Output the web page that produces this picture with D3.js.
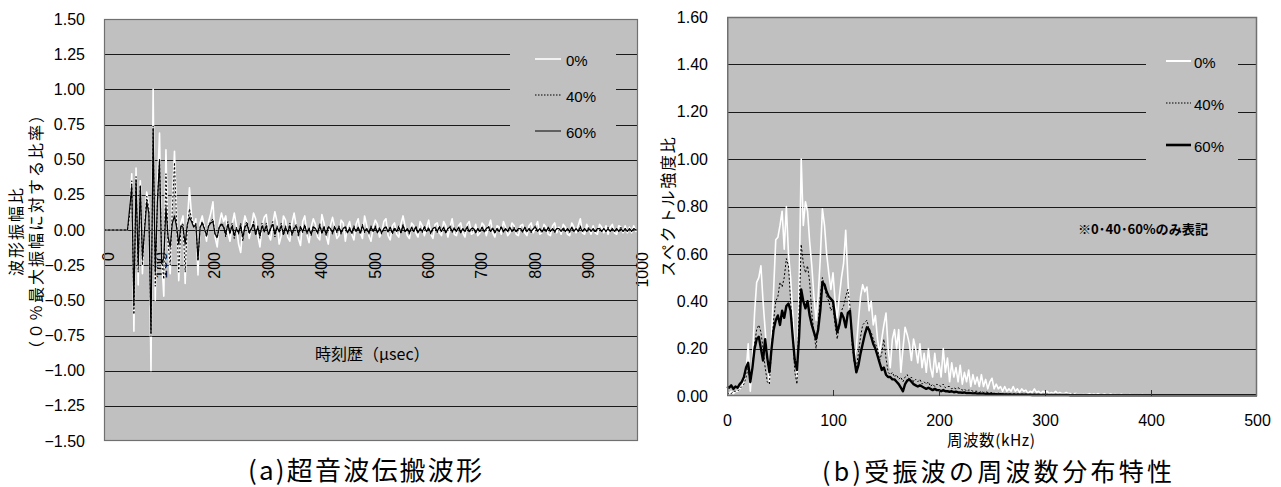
<!DOCTYPE html>
<html>
<head>
<meta charset="utf-8">
<script src="https://cdn.jsdelivr.net/npm/d3@7"></script>
<style>
  body { margin: 0; background: #fff; }
  svg { display: block; }
  .num { font-family: "Liberation Sans", Arial, sans-serif; }
  .jp { font-family: "Noto Sans CJK JP", "Noto Sans", sans-serif; }
</style>
</head>
<body>
<svg id="chart" width="1281" height="487"></svg>
<script>
// ---------- (a) waveform: amplitude ratio vs time, sampled every 4 µs ----------
const timeUs = d3.range(0, 1001, 4);
const waveTicksX = [0, 100, 200, 300, 400, 500, 600, 700, 800, 900, 1000];
const waveTicksY = [-1.5, -1.25, -1.0, -0.75, -0.5, -0.25, 0, 0.25, 0.5, 0.75, 1.0, 1.25, 1.5];
const seriesNames = ["0%", "40%", "60%"];

const wave0 = [
  0,0,0,0,0,0,0,0,0,0,0,0,
  0.1,0.4,-0.72,0.44,-0.39,0.35,-0.31,0.05,0.27,0.18,
  -1.0,1.0,-0.5,0.3,0.69,-0.2,-0.47,0.57,-0.1,-0.31,
  0.2,0.56,0.1,-0.36,0.05,0.1,-0.38,0.05,0.3,0.1,
  0.02,0.08,-0.32,0.05,0.1,0.02,-0.08,0.06,0.12,0.2,
  -0.05,-0.12,0.05,0.12,
  0.06,0.1,-0.02,-0.08,0.04,0.12,0.03,-0.1,-0.16,0.02,
  0.1,0.05,-0.06,0.02,0.12,0.08,-0.04,-0.12,0.03,0.09,
  0.11,-0.03,-0.07,0.04,0.13,0.06,-0.1,-0.04,0.1,0.07,
  -0.05,-0.08,0.05,0.12,0.03,-0.06,-0.11,0.06,0.1,-0.03,
  -0.09,0.02,0.08,0.04,-0.05,-0.07,0.11,0.05,-0.04,-0.1,
  0.03,0.09,0.02,-0.06,-0.04,0.07,0.05,-0.08,0.02,0.06,
  -0.03,-0.07,0.04,0.08,-0.02,-0.06,0.1,0.03,-0.04,-0.08,
  0.02,0.07,0.04,-0.05,-0.02,0.06,0.08,-0.04,-0.07,0.03,
  0.05,-0.03,-0.05,0.04,0.1,0.02,-0.04,-0.06,0.05,0.03,
  -0.02,-0.05,0.06,0.03,-0.04,0.02,0.07,-0.03,-0.06,0.04,
  0.05,-0.02,-0.04,0.06,0.03,-0.05,0.02,0.08,-0.03,-0.04,
  0.03,0.05,-0.02,-0.05,0.04,0.06,-0.03,-0.02,0.04,-0.04,
  -0.02,0.05,0.03,-0.04,0.02,0.07,-0.02,-0.05,0.03,0.02,
  -0.03,0.06,0.02,-0.04,-0.02,0.05,0.03,-0.03,-0.04,0.03,
  0.04,-0.02,-0.04,0.03,0.05,-0.02,0.02,0.06,-0.03,-0.02,
  0.04,0.02,-0.03,-0.04,0.03,0.05,-0.02,0.02,-0.03,0.04,
  0.02,-0.03,-0.04,0.05,0.02,-0.02,0.03,0.08,-0.02,-0.03,
  0.04,0.01,-0.03,0.03,-0.02,-0.03,0.04,0.02,-0.02,0.03,
  -0.03,0.02,0.04,-0.02,-0.03,0.03,0.02,-0.02,0.03,-0.02,
  0.02,-0.02,0.03,-0.01,0.01
];

const wave40 = [
  0,0,0,0,0,0,0,0,0,0,0,0,
  0.1,0.35,-0.6,0.38,-0.3,0.32,-0.25,0.02,0.24,0.15,
  -0.76,0.74,-0.4,0.2,0.5,-0.2,-0.35,0.4,-0.1,-0.25,
  0.15,0.48,0.05,-0.3,0.02,0.05,-0.3,0.02,0.15,0.08,
  0.03,0.05,-0.22,0.02,0.06,0.01,-0.05,0.04,0.06,0.08,
  -0.03,-0.06,0.03,0.05,
  0.03,-0.05,0.06,-0.03,0.05,-0.06,0.02,-0.03,0.05,-0.08,
  0.03,0.06,-0.03,0.01,0.06,-0.04,0.03,-0.06,0.05,-0.02,
  0.05,-0.04,0.02,0.06,-0.05,0.03,-0.02,0.05,-0.04,0.03,
  -0.03,0.05,-0.04,0.02,0.04,-0.05,0.03,-0.02,0.04,-0.03,
  0.02,-0.04,0.03,0.01,-0.03,0.05,-0.03,0.03,-0.04,0.03,
  0.01,-0.03,0.03,-0.02,0.03,-0.03,0.01,0.03,-0.02,0.02,
  -0.03,0.03,-0.01,0.02,-0.03,0.04,-0.02,0.01,-0.03,0.03,
  -0.01,0.03,-0.02,0.02,-0.03,0.01,0.03,-0.02,0.02,-0.03,
  0.02,-0.01,0.03,-0.02,0.04,-0.02,0.01,-0.03,0.02,-0.01,
  0.03,-0.02,0.01,-0.02,0.03,-0.01,0.02,-0.03,0.01,0.02,
  -0.02,0.03,-0.01,0.02,-0.02,0.01,0.03,-0.02,0.02,-0.01,
  0.02,-0.02,0.01,-0.01,0.03,-0.02,0.01,0.02,-0.02,0.01,
  -0.01,0.02,-0.02,0.01,0.03,-0.01,0.02,-0.02,0.01,-0.01,
  0.03,-0.02,0.01,-0.01,0.02,-0.01,0.02,-0.02,0.01,0.01,
  -0.02,0.02,-0.01,0.01,-0.02,0.01,0.03,-0.01,0.01,-0.02,
  0.02,-0.01,0.02,-0.01,0.01,-0.02,0.01,0.01,-0.01,0.02,
  -0.01,0.01,-0.02,0.02,-0.01,0.01,-0.01,0.03,-0.01,0.01,
  -0.01,0.02,-0.01,0.01,-0.02,0.01,0.01,-0.01,0.01,-0.01,
  0.02,-0.01,0.01,-0.01,0.01,-0.01,0.02,-0.01,0.01,-0.01,
  0.01,-0.01,0.01,0,0
];

const wave60 = [
  0,0,0,0,0,0,0,0,0,0,0,0,
  0.15,0.31,-0.54,0.35,-0.25,0.31,-0.2,0.0,0.2,0.12,
  -0.73,0.72,-0.3,0.2,0.5,-0.24,-0.2,0.16,-0.05,-0.12,
  0.05,0.1,0.02,-0.1,0.03,0.02,-0.1,0.04,0.09,0.06,
  0.02,0.04,-0.21,0.02,0.05,0.01,-0.04,0.03,0.05,0.06,
  -0.03,-0.05,0.02,0.04,
  0.02,-0.03,0.04,-0.02,0.03,-0.04,0.01,-0.02,0.03,-0.05,
  0.02,0.04,-0.02,0.01,0.04,-0.03,0.02,-0.04,0.03,-0.01,
  0.03,-0.03,0.01,0.04,-0.03,0.02,-0.01,0.03,-0.03,0.02,
  -0.02,0.03,-0.03,0.01,0.03,-0.03,0.02,-0.01,0.03,-0.02,
  0.01,-0.03,0.02,0.01,-0.02,0.03,-0.02,0.02,-0.03,0.02,
  0.01,-0.02,0.02,-0.01,0.02,-0.02,0.01,0.02,-0.02,0.01,
  -0.02,0.02,-0.01,0.02,-0.02,0.03,-0.01,0.01,-0.02,0.02,
  -0.01,0.02,-0.02,0.01,-0.02,0.01,0.02,-0.01,0.02,-0.02,
  0.01,-0.01,0.02,-0.02,0.03,-0.01,0.01,-0.02,0.02,-0.01,
  0.02,-0.02,0.01,-0.01,0.02,-0.01,0.01,-0.02,0.01,0.02,
  -0.01,0.02,-0.01,0.02,-0.02,0.01,0.02,-0.01,0.01,-0.01,
  0.02,-0.02,0.01,-0.01,0.02,-0.01,0.01,0.01,-0.02,0.01,
  -0.01,0.02,-0.01,0.01,0.02,-0.01,0.01,-0.02,0.01,-0.01,
  0.02,-0.01,0.01,-0.01,0.02,-0.01,0.01,-0.01,0.01,0.01,
  -0.01,0.02,-0.01,0.01,-0.01,0.01,0.02,-0.01,0.01,-0.01,
  0.01,-0.01,0.02,-0.01,0.01,-0.01,0.01,0.01,-0.01,0.01,
  -0.01,0.01,-0.01,0.02,-0.01,0.01,-0.01,0.02,-0.01,0.01,
  -0.01,0.01,-0.01,0.01,-0.01,0.01,0.01,-0.01,0.01,-0.01,
  0.01,-0.01,0.01,-0.01,0.01,-0.01,0.01,-0.01,0.01,-0.01,
  0.01,-0.01,0.01,0,0
];

// ---------- (b) spectrum: intensity ratio vs frequency, every 2 kHz ----------
const freqKHz = d3.range(0, 501, 2);
const specTicksX = [0, 100, 200, 300, 400, 500];
const specTicksY = [0, 0.2, 0.4, 0.6, 0.8, 1.0, 1.2, 1.4, 1.6];

const spec0 = [
  0.01,0.01,0.02,0.01,0.02,0.02,0.03,0.04,0.06,0.1,
  0.22,0.02,0.15,0.35,0.48,0.5,0.55,0.4,0.28,0.15,
  0.06,0.25,0.45,0.66,0.67,0.72,0.78,0.62,0.8,0.6,
  0.5,0.35,0.18,0.08,0.45,1.0,0.72,0.82,0.78,0.65,
  0.55,0.42,0.32,0.42,0.58,0.79,0.72,0.6,0.52,0.45,
  0.52,0.4,0.33,0.42,0.5,0.56,0.7,0.5,0.32,0.24,
  0.16,0.2,0.32,0.42,0.47,0.44,0.46,0.36,0.4,0.3,
  0.34,0.24,0.18,0.24,0.3,0.35,0.2,0.12,0.24,0.28,
  0.2,0.28,0.1,0.2,0.29,0.26,0.22,0.15,0.24,0.2,
  0.14,0.22,0.12,0.18,0.1,0.2,0.12,0.08,0.18,0.1,
  0.14,0.08,0.2,0.1,0.16,0.06,0.14,0.08,0.12,0.06,
  0.13,0.05,0.1,0.06,0.11,0.04,0.09,0.05,0.08,0.04,
  0.09,0.04,0.07,0.03,0.06,0.075,0.03,0.05,0.03,0.04,
  0.02,0.04,0.02,0.03,0.02,0.04,0.02,0.03,0.015,0.03,
  0.02,0.025,0.01,0.02,0.015,0.03,0.015,0.02,0.01,0.02,
  0.015,0.02,0.01,0.015,0.01,0.02,0.01,0.015,0.01,0.01,
  0.015,0.01,0.01,0.005,0.01,0.01,0.005,0.01,0.005,0.01,
  0.005,0.01,0.005,0.008,0.005,0.01,0.005,0.005,0.008,0.005,
  0.005,0.008,0.004,0.006,0.005,0.004,0.007,0.004,0.005,0.004,
  0.006,0.004,0.005,0.003,0.005,0.004,0.006,0.003,0.004,0.005,
  0.004,0.003,0.005,0.004,0.003,0.004,0.005,0.003,0.004,0.003,
  0.004,0.005,0.003,0.004,0.003,0.004,0.003,0.005,0.003,0.004,
  0.003,0.004,0.003,0.004,0.005,0.003,0.004,0.003,0.004,0.003,
  0.004,0.003,0.004,0.003,0.004,0.005,0.003,0.004,0.003,0.004,
  0.003,0.004,0.003,0.004,0.003,0.004,0.003,0.004,0.003,0.004,
  0.003
];

const spec40 = [
  0.01,0.01,0.01,0.02,0.02,0.02,0.03,0.04,0.05,0.08,
  0.12,0.05,0.12,0.22,0.28,0.3,0.27,0.2,0.12,0.06,
  0.05,0.2,0.32,0.4,0.42,0.48,0.46,0.5,0.58,0.55,
  0.4,0.25,0.1,0.05,0.35,0.64,0.56,0.52,0.55,0.48,
  0.35,0.27,0.2,0.3,0.42,0.5,0.46,0.42,0.4,0.36,
  0.38,0.3,0.24,0.3,0.36,0.38,0.42,0.45,0.38,0.22,
  0.14,0.12,0.18,0.25,0.3,0.31,0.32,0.28,0.27,0.24,
  0.22,0.2,0.15,0.18,0.24,0.16,0.1,0.09,0.1,0.08,
  0.09,0.07,0.08,0.06,0.08,0.09,0.07,0.08,0.06,0.07,
  0.06,0.07,0.05,0.06,0.05,0.06,0.04,0.05,0.04,0.05,
  0.045,0.04,0.05,0.035,0.04,0.04,0.03,0.035,0.03,0.035,
  0.03,0.025,0.03,0.02,0.025,0.025,0.02,0.02,0.02,0.015,
  0.02,0.015,0.018,0.015,0.012,0.015,0.012,0.01,0.012,0.01,
  0.01,0.012,0.009,0.01,0.008,0.01,0.008,0.009,0.007,0.008,
  0.007,0.008,0.006,0.007,0.006,0.007,0.005,0.006,0.005,0.006,
  0.005,0.006,0.005,0.005,0.004,0.005,0.004,0.005,0.004,0.004,
  0.004,0.005,0.004,0.004,0.003,0.004,0.004,0.003,0.004,0.003,
  0.004,0.003,0.003,0.004,0.003,0.003,0.004,0.003,0.003,0.003,
  0.003,0.004,0.003,0.003,0.003,0.003,0.004,0.003,0.003,0.003,
  0.003,0.003,0.003,0.004,0.003,0.003,0.003,0.003,0.003,0.003,
  0.003,0.003,0.004,0.003,0.003,0.003,0.003,0.003,0.003,0.003,
  0.003,0.003,0.003,0.003,0.003,0.003,0.003,0.003,0.003,0.003,
  0.003,0.003,0.003,0.003,0.003,0.003,0.003,0.003,0.003,0.003,
  0.003,0.003,0.003,0.003,0.003,0.003,0.003,0.003,0.003,0.003,
  0.003,0.003,0.003,0.003,0.003,0.003,0.003,0.003,0.003,0.003,
  0.003
];

const spec60 = [
  0.04,0.035,0.045,0.03,0.04,0.035,0.05,0.06,0.08,0.12,
  0.14,0.06,0.12,0.2,0.24,0.25,0.2,0.15,0.24,0.16,
  0.1,0.2,0.28,0.32,0.34,0.3,0.36,0.33,0.38,0.39,
  0.36,0.25,0.15,0.11,0.25,0.45,0.4,0.37,0.4,0.34,
  0.3,0.27,0.24,0.28,0.36,0.48,0.47,0.44,0.42,0.41,
  0.4,0.33,0.27,0.3,0.35,0.33,0.29,0.35,0.36,0.25,
  0.16,0.1,0.13,0.18,0.22,0.26,0.29,0.28,0.25,0.22,
  0.2,0.17,0.14,0.11,0.12,0.09,0.08,0.08,0.07,0.07,
  0.06,0.05,0.035,0.02,0.05,0.065,0.07,0.06,0.05,0.045,
  0.04,0.045,0.04,0.035,0.03,0.035,0.03,0.025,0.03,0.025,
  0.025,0.02,0.025,0.02,0.02,0.018,0.02,0.016,0.018,0.015,
  0.015,0.014,0.015,0.012,0.013,0.012,0.011,0.012,0.01,0.011,
  0.01,0.01,0.009,0.01,0.008,0.009,0.008,0.008,0.007,0.008,
  0.007,0.007,0.006,0.007,0.006,0.006,0.006,0.005,0.006,0.005,
  0.005,0.005,0.005,0.005,0.004,0.005,0.004,0.005,0.004,0.004,
  0.004,0.004,0.004,0.004,0.004,0.004,0.004,0.004,0.004,0.004,
  0.004,0.004,0.003,0.004,0.003,0.004,0.003,0.004,0.003,0.004,
  0.003,0.003,0.003,0.003,0.003,0.003,0.003,0.003,0.003,0.003,
  0.003,0.003,0.003,0.003,0.003,0.003,0.003,0.003,0.003,0.003,
  0.003,0.003,0.003,0.003,0.003,0.003,0.003,0.003,0.003,0.003,
  0.003,0.003,0.003,0.003,0.003,0.003,0.003,0.003,0.003,0.003,
  0.003,0.003,0.003,0.003,0.003,0.003,0.003,0.003,0.003,0.003,
  0.003,0.003,0.003,0.003,0.003,0.003,0.003,0.003,0.003,0.003,
  0.003,0.003,0.003,0.003,0.003,0.003,0.003,0.003,0.003,0.003,
  0.003,0.003,0.003,0.003,0.003,0.003,0.003,0.003,0.003,0.003,
  0.003
];

// ---------- shared drawing helpers ----------
const svg = d3.select("#chart");
const PLOT_BG = "#c0c0c0";
const GRID = "#1a1a1a";
const FRAME = "#707070";

const styles = {
  "0%":  { stroke: "#ffffff", dash: null },
  "40%": { stroke: "#000000", dash: "2,2" },
  "60%": { stroke: "#000000", dash: null }
};

function frame(g, x0, y0, x1, y1) {
  g.append("rect")
    .attr("x", x0).attr("y", y0)
    .attr("width", x1 - x0).attr("height", y1 - y0)
    .attr("fill", PLOT_BG);
}

function border(g, x0, y0, x1, y1, w) {
  g.append("rect")
    .attr("x", x0).attr("y", y0)
    .attr("width", x1 - x0).attr("height", y1 - y0)
    .attr("fill", "none")
    .attr("stroke", FRAME)
    .attr("stroke-width", w);
}

function gridLines(g, yScale, values, x0, x1) {
  g.selectAll(null).data(values).join("line")
    .attr("x1", x0).attr("x2", x1)
    .attr("y1", d => Math.round(yScale(d)) + 0.5)
    .attr("y2", d => Math.round(yScale(d)) + 0.5)
    .attr("stroke", GRID).attr("stroke-width", 1);
}

function legend(g, box, items, lineX0, lineX1, labelX, rows, widths) {
  g.append("rect")
    .attr("x", box[0]).attr("y", box[1])
    .attr("width", box[2]).attr("height", box[3])
    .attr("fill", PLOT_BG);
  items.forEach((name, i) => {
    const st = styles[name];
    g.append("line")
      .attr("x1", lineX0).attr("x2", lineX1)
      .attr("y1", rows[i]).attr("y2", rows[i])
      .attr("stroke", st.stroke)
      .attr("stroke-width", widths[i])
      .attr("stroke-dasharray", st.dash ? "1.5,1.5" : null);
    g.append("text")
      .attr("class", "num")
      .attr("x", labelX).attr("y", rows[i] + 6.5)
      .attr("font-size", 15)
      .attr("fill", "#000")
      .text(name);
  });
}

// ---------- chart (a) ----------
{
  const X0 = 104, X1 = 638, Y0 = 19, Y1 = 441;
  const x = d3.scaleLinear().domain([0, 1000]).range([X0, X1]);
  const y = d3.scaleLinear().domain([-1.5, 1.5]).range([Y1, Y0]);
  const g = svg.append("g");

  frame(g, X0, Y0, X1, Y1);
  gridLines(g, y, waveTicksY.filter(v => Math.abs(v) < 1.5), X0, X1);

  legend(g, [510, 32, 106, 116], seriesNames, 535, 561, 566, [59, 95, 131], [1.6, 1, 1]);

  // x tick labels, rotated, hanging below the zero line
  const xAxis = d3.axisBottom(x).tickValues(waveTicksX).tickSize(0).tickFormat(d3.format("d"));
  const gx = g.append("g").attr("transform", `translate(0,${y(0)})`).call(xAxis);
  gx.select(".domain").remove();
  gx.selectAll("text")
    .attr("class", "num")
    .attr("font-size", 16)
    .attr("fill", "#000")
    .attr("y", null).attr("dy", null)
    .attr("text-anchor", "end")
    .attr("transform", "translate(9,22) rotate(-90)");

  // waveform lines: white, dotted, black on top
  const line = d3.line().x(d => x(d[0])).y(d => y(d[1]));
  const waves = [[wave0, "0%", 1.6], [wave40, "40%", 1], [wave60, "60%", 1.2]];
  waves.forEach(([vals, name, w]) => {
    g.append("path")
      .datum(vals.map((v, i) => [timeUs[i], v]))
      .attr("fill", "none")
      .attr("stroke", styles[name].stroke)
      .attr("stroke-width", w)
      .attr("stroke-dasharray", styles[name].dash)
      .attr("stroke-linejoin", "round")
      .attr("d", line);
  });

  border(g, X0 + 0.5, Y0 + 0.5, X1 - 0.5, Y1 - 0.5, 1.2);

  // y tick labels
  const yAxis = d3.axisLeft(y).tickValues(waveTicksY).tickSize(0).tickPadding(19)
    .tickFormat(d3.format(".2f"));
  const gy = g.append("g").attr("transform", `translate(${X0},0)`).call(yAxis);
  gy.select(".domain").remove();
  gy.selectAll("text").attr("class", "num").attr("font-size", 16).attr("fill", "#000");

  // axis titles
  g.append("text").attr("class", "jp")
    .attr("x", 315).attr("y", 360)
    .attr("font-size", 16).attr("fill", "#000")
    .text("時刻歴（μsec）");

  const yt = [["波形振幅比", 14.5], ["（０％最大振幅に対する比率）", 35]];
  yt.forEach(([t, cx]) => {
    g.append("text").attr("class", "jp")
      .attr("transform", `translate(${cx},231) rotate(-90)`)
      .attr("text-anchor", "middle")
      .attr("dominant-baseline", "central")
      .attr("font-size", 16)
      .attr("letter-spacing", "2px")
      .attr("fill", "#000")
      .text(t);
  });

  g.append("text").attr("class", "jp")
    .attr("x", 248).attr("y", 480)
    .attr("font-size", 26).attr("fill", "#000")
    .attr("textLength", 234).attr("lengthAdjust", "spacing")
    .text("(a)超音波伝搬波形");
}

// ---------- chart (b) ----------
{
  const X0 = 727, X1 = 1257, Y0 = 17, Y1 = 396;
  const x = d3.scaleLinear().domain([0, 500]).range([X0, X1]);
  const y = d3.scaleLinear().domain([0, 1.6]).range([Y1, Y0]);
  const g = svg.append("g");

  frame(g, X0, Y0, X1, Y1);
  gridLines(g, y, specTicksY.filter(v => v > 0 && v < 1.6), X0, X1);

  legend(g, [1146, 36, 92, 140], seriesNames, 1166, 1191, 1194, [61, 103, 145], [2, 1, 2.6]);

  g.append("text").attr("class", "jp")
    .attr("x", 1078).attr("y", 234)
    .attr("font-size", 13).attr("font-weight", "bold").attr("fill", "#000")
    .attr("textLength", 130).attr("lengthAdjust", "spacingAndGlyphs")
    .text("※0･40･60%のみ表記");

  const line = d3.line().x(d => x(d[0])).y(d => y(d[1]));
  const specs = [[spec0, "0%", 1.6], [spec40, "40%", 1], [spec60, "60%", 2.4]];
  specs.forEach(([vals, name, w]) => {
    g.append("path")
      .datum(vals.map((v, i) => [freqKHz[i], v]))
      .attr("fill", "none")
      .attr("stroke", styles[name].stroke)
      .attr("stroke-width", w)
      .attr("stroke-dasharray", styles[name].dash)
      .attr("stroke-linejoin", "round")
      .attr("d", line);
  });

  border(g, X0 + 0.75, Y0 + 0.5, X1 - 0.5, Y1 - 0.5, 1.5);

  // small inward ticks along the frequency axis
  g.selectAll(null).data(specTicksX.slice(1, -1)).join("line")
    .attr("x1", d => Math.round(x(d)) + 0.5).attr("x2", d => Math.round(x(d)) + 0.5)
    .attr("y1", Y1 - 6).attr("y2", Y1)
    .attr("stroke", "#333").attr("stroke-width", 1);

  const xAxis = d3.axisBottom(x).tickValues(specTicksX).tickSize(0).tickPadding(19)
    .tickFormat(d3.format("d"));
  const gx = g.append("g").attr("transform", `translate(0,${Y1})`).call(xAxis);
  gx.select(".domain").remove();
  gx.selectAll("text").attr("class", "num").attr("font-size", 16).attr("fill", "#000");

  const yAxis = d3.axisLeft(y).tickValues(specTicksY).tickSize(0).tickPadding(19)
    .tickFormat(d3.format(".2f"));
  const gy = g.append("g").attr("transform", `translate(${X0},0)`).call(yAxis);
  gy.select(".domain").remove();
  gy.selectAll("text").attr("class", "num").attr("font-size", 16).attr("fill", "#000");

  g.append("text").attr("class", "jp")
    .attr("x", 947).attr("y", 446)
    .attr("font-size", 15.5).attr("fill", "#000")
    .attr("textLength", 88).attr("lengthAdjust", "spacing")
    .text("周波数(kHz)");

  g.append("text").attr("class", "jp")
    .attr("transform", "translate(667,206) rotate(-90)")
    .attr("text-anchor", "middle")
    .attr("dominant-baseline", "central")
    .attr("font-size", 16)
    .attr("letter-spacing", "1.8px")
    .attr("fill", "#000")
    .text("スペクトル強度比");

  g.append("text").attr("class", "jp")
    .attr("x", 822).attr("y", 481)
    .attr("font-size", 25).attr("fill", "#000")
    .attr("textLength", 350).attr("lengthAdjust", "spacing")
    .text("(b)受振波の周波数分布特性");
}
</script>
</body>
</html>
